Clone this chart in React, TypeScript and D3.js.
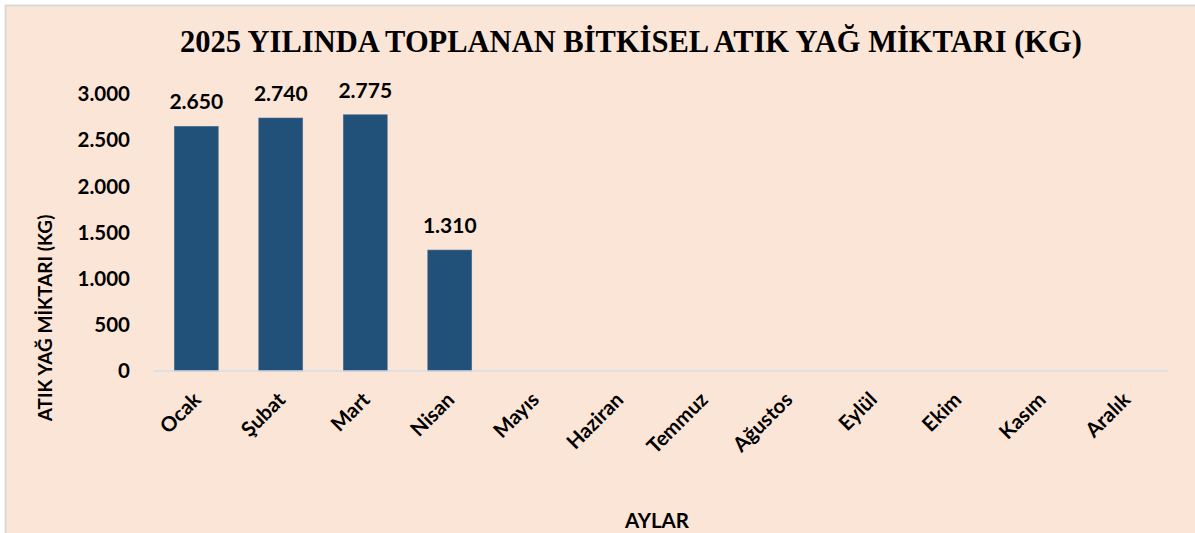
import React from "react";
import * as d3 from "d3";

const months = ["Ocak", "Şubat", "Mart", "Nisan", "Mayıs", "Haziran", "Temmuz", "Ağustos", "Eylül", "Ekim", "Kasım", "Aralık"];
const values: (number | null)[] = [2650, 2740, 2775, 1310, null, null, null, null, null, null, null, null];
const yTicks = [0, 500, 1000, 1500, 2000, 2500, 3000];
const title = "2025 YILINDA TOPLANAN BİTKİSEL ATIK YAĞ MİKTARI (KG)";
const yTitle = "ATIK YAĞ MİKTARI (KG)";
const xTitle = "AYLAR";

const W = 1195;
const H = 533;
const plot = { left: 154, right: 1168, top: 94, bottom: 371 };
const sans = "Lato, 'Open Sans', sans-serif";

export default function App() {
  const x = d3.scaleBand<string>().domain(months).range([plot.left, plot.right]).paddingInner(0.48).paddingOuter(0.24);
  const y = d3.scaleLinear().domain([0, 3000]).range([plot.bottom, plot.top]);
  const fmt = d3.formatLocale({ decimal: ",", thousands: ".", grouping: [3], currency: ["", "₺"] }).format(",d");

  return (
    <svg width={W} height={H} style={{ position: "fixed", left: 0, top: 0 }}>
      <rect x={0} y={0} width={W} height={H} fill="#ffffff" />
      <rect x={5.5} y={5.5} width={W + 10} height={H + 10} fill="#fbe5d7" stroke="#d9d9d9" strokeWidth={2} />
      <text x={631} y={52} textAnchor="middle" fontFamily="'Liberation Serif', 'Times New Roman', serif" fontWeight="bold" fontSize={30.5} fill="#000">{title}</text>
      {yTicks.map((t) => (
        <text key={t} x={130} y={y(t)} dy="0.35em" textAnchor="end" fontFamily={sans} fontWeight="bold" fontSize={20.5} fill="#000">{fmt(t)}</text>
      ))}
      {months.map((m, i) => {
        const v = values[i];
        if (v == null) return null;
        return (
          <g key={m}>
            <rect x={x(m)} y={y(v)} width={x.bandwidth()} height={y(0) - y(v)} fill="#215078" stroke="#4a6f93" strokeWidth={0.6} />
            <text x={(x(m) ?? 0) + x.bandwidth() / 2} y={y(v) - 17} textAnchor="middle" fontFamily={sans} fontWeight="bold" fontSize={21} fill="#000">{fmt(v)}</text>
          </g>
        );
      })}
      <line x1={plot.left} x2={plot.right} y1={y(0)} y2={y(0)} stroke="#d6dce4" strokeWidth={1.5} />
      {months.map((m) => {
        const cx = (x(m) ?? 0) + x.bandwidth() / 2 + 6;
        const cy = y(0) + 30;
        return (
          <text key={m} x={cx} y={cy} textAnchor="end" transform={`rotate(-45 ${cx} ${cy})`} fontFamily={sans} fontWeight="bold" fontSize={20.5} fill="#000">{m}</text>
        );
      })}
      <text x={0} y={0} transform={`translate(52 318) rotate(-90)`} textAnchor="middle" fontFamily={sans} fontWeight="bold" fontSize={19} fill="#000">{yTitle}</text>
      <text x={657} y={528} textAnchor="middle" fontFamily={sans} fontWeight="bold" fontSize={20.5} fill="#000">{xTitle}</text>
    </svg>
  );
}
